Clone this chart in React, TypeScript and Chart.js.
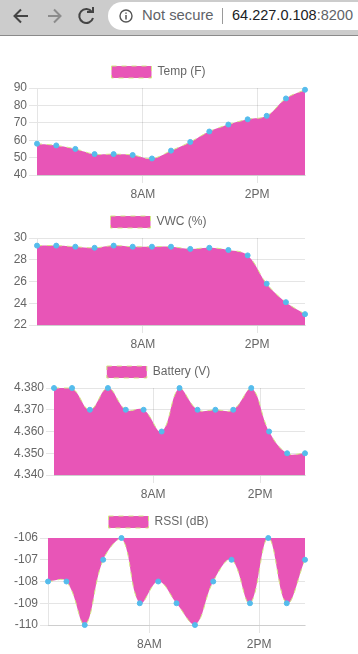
import React, { useEffect, useRef } from "react";
import { Chart, registerables } from "chart.js";

Chart.register(...registerables);

const tickHours = [8, 14];
const tempHours = [2.45, 3.46, 4.46, 5.47, 6.47, 7.47, 8.48, 9.48, 10.49, 11.49, 12.49, 13.5, 14.5, 15.51, 16.51];
const tempValues = [58, 57, 55, 52, 52, 51.5, 49.5, 54, 59, 65, 69, 72, 74, 84, 89];
const vwcValues = [29.3, 29.3, 29.2, 29.1, 29.3, 29.2, 29.2, 29.2, 29, 29.1, 28.9, 28.4, 25.8, 24.1, 23];
const batteryValues = [4.38, 4.38, 4.37, 4.38, 4.37, 4.37, 4.36, 4.38, 4.37, 4.37, 4.37, 4.38, 4.36, 4.35, 4.35];
const rssiValues = [-108, -108, -110, -107, -106, -109, -108, -109, -110, -108, -107, -109, -106, -109, -107];

const tempTicks = [40, 50, 60, 70, 80, 90];
const vwcTicks = [22, 24, 26, 28, 30];
const batteryTicks = [4.34, 4.35, 4.36, 4.37, 4.38];
const rssiTicks = [-110, -109, -108, -107, -106];

const FONT = "'Liberation Sans', Arial, sans-serif";
const TEXT = "#666666";
const PINK = "#e855b7";
const LINE = "#d2e885";
const DOT = "#55bcec";

const nudgeLegend = {
  id: "nudgeLegend",
  afterLayout(chart: any) {
    chart.legend.left += 2;
    chart.legend.right += 2;
  },
};

type PanelProps = {
  label: string;
  values: number[];
  ticks: number[];
  decimals: number;
  top: number;
  axisWidth: number;
  firstHour: number;
  lastHour: number;
};

function Panel({ label, values, ticks, decimals, top, axisWidth, firstHour, lastHour }: PanelProps) {
  const ref = useRef<HTMLCanvasElement>(null);
  useEffect(() => {
    const chart = new Chart(ref.current!, {
      type: "line",
      plugins: [nudgeLegend],
      data: {
        datasets: [
          {
            label,
            data: values.map((y, i) => ({ x: tempHours[i], y })),
            fill: "origin",
            backgroundColor: PINK,
            borderColor: LINE,
            borderWidth: 1,
            borderDash: [5, 5],
            tension: 0.4,
            pointBackgroundColor: DOT,
            pointBorderColor: DOT,
            pointBorderWidth: 1,
            pointRadius: 2.5,
            clip: false,
          },
        ],
      },
      options: {
        animation: false,
        responsive: false,
        layout: { padding: { right: 7, top: 0, bottom: 0, left: 0 } },
        plugins: {
          tooltip: { enabled: false },
          legend: {
            display: true,
            position: "top",
            labels: { boxWidth: 40, boxHeight: 12, color: TEXT, font: { family: FONT, size: 12 }, padding: 10 },
          },
        },
        scales: {
          x: {
            type: "linear",
            min: firstHour,
            max: lastHour,
            afterBuildTicks: (s: any) => {
              s.ticks = tickHours.map((value) => ({ value }));
            },
            afterFit: (s: any) => {
              s.height = 31;
            },
            ticks: {
              color: TEXT,
              font: { family: FONT, size: 12 },
              maxRotation: 0,
              autoSkip: false,
              padding: 4,
              callback: (v: any) => (Number(v) === 8 ? "8AM" : "2PM"),
            },
            grid: { color: "rgba(0,0,0,0.1)", tickLength: 8, drawTicks: true },
            border: { color: "rgba(0,0,0,0.1)" },
          },
          y: {
            min: ticks[0],
            max: ticks[ticks.length - 1],
            afterBuildTicks: (s: any) => {
              s.ticks = ticks.map((value) => ({ value }));
            },
            afterFit: (s: any) => {
              s.width = axisWidth;
            },
            ticks: {
              color: TEXT,
              font: { family: FONT, size: 12 },
              autoSkip: false,
              padding: 2,
              callback: (v: any) => Number(v).toFixed(decimals),
            },
            grid: { color: "rgba(0,0,0,0.1)", tickLength: 8 },
            border: { color: "rgba(0,0,0,0.1)" },
          },
        },
      },
    });
    return () => chart.destroy();
  }, []);
  return (
    <canvas
      ref={ref}
      width={304}
      height={150}
      style={{ position: "absolute", left: 8, top, width: 304, height: 150, display: "block" }}
    />
  );
}

function BrowserBar() {
  return (
    <div
      style={{
        position: "absolute",
        left: 0,
        top: 0,
        width: 358,
        height: 35,
        background: "#cccccc",
        borderBottom: "1px solid #8a8a8a",
        overflow: "hidden",
        fontFamily: "'Liberation Sans', Arial, sans-serif",
      }}
    >
      <svg width="110" height="35" style={{ position: "absolute", left: 0, top: 0 }}>
        <g fill="none" strokeWidth="2">
          <path d="M28 16H15M21 9.5L14.5 16L21 22.5" stroke="#444" />
          <path d="M48 16H60M54 9.5L60.5 16L54 22.5" stroke="#8c8c8c" />
          <path d="M92 12A7 7 0 1 0 93 18" stroke="#444" />
          <path d="M87 12H93V7" stroke="#444" />
        </g>
      </svg>
      <div style={{ position: "absolute", left: 108, top: 2, width: 280, height: 28, borderRadius: 14, background: "#ffffff" }} />
      <svg width="16" height="16" style={{ position: "absolute", left: 118, top: 8 }}>
        <circle cx="8" cy="8" r="6" fill="none" stroke="#555" strokeWidth="1.4" />
        <path d="M8 7V11.5M8 4.4V5.8" stroke="#555" strokeWidth="1.5" />
      </svg>
      <div style={{ position: "absolute", left: 142, top: 7, fontSize: 14.8, color: "#5f6368", whiteSpace: "nowrap" }}>
        Not secure
      </div>
      <div style={{ position: "absolute", left: 222, top: 8, width: 1, height: 16, background: "#9a9a9a" }} />
      <div style={{ position: "absolute", left: 232, top: 7, fontSize: 14.5, color: "#202124", whiteSpace: "nowrap" }}>
        64.227.0.108<span style={{ color: "#5f6368" }}>:8200</span>
      </div>
    </div>
  );
}

export default function App() {
  useEffect(() => {
    document.body.style.margin = "0";
    document.body.style.background = "#ffffff";
  }, []);
  return (
    <div style={{ position: "relative", width: 358, height: 654, overflow: "hidden", background: "#fff", margin: 0 }}>
      <BrowserBar />
      <Panel label="Temp (F)" values={tempValues} ticks={tempTicks} decimals={0} top={56} axisWidth={29} firstHour={2.45} lastHour={16.51} />
      <Panel label="VWC (%)" values={vwcValues} ticks={vwcTicks} decimals={0} top={206} axisWidth={29} firstHour={2.45} lastHour={16.51} />
      <Panel label="Battery (V)" values={batteryValues} ticks={batteryTicks} decimals={3} top={356} axisWidth={46} firstHour={2.45} lastHour={16.51} />
      <Panel label="RSSI (dB)" values={rssiValues} ticks={rssiTicks} decimals={0} top={506} axisWidth={40} firstHour={2.45} lastHour={16.51} />
    </div>
  );
}
